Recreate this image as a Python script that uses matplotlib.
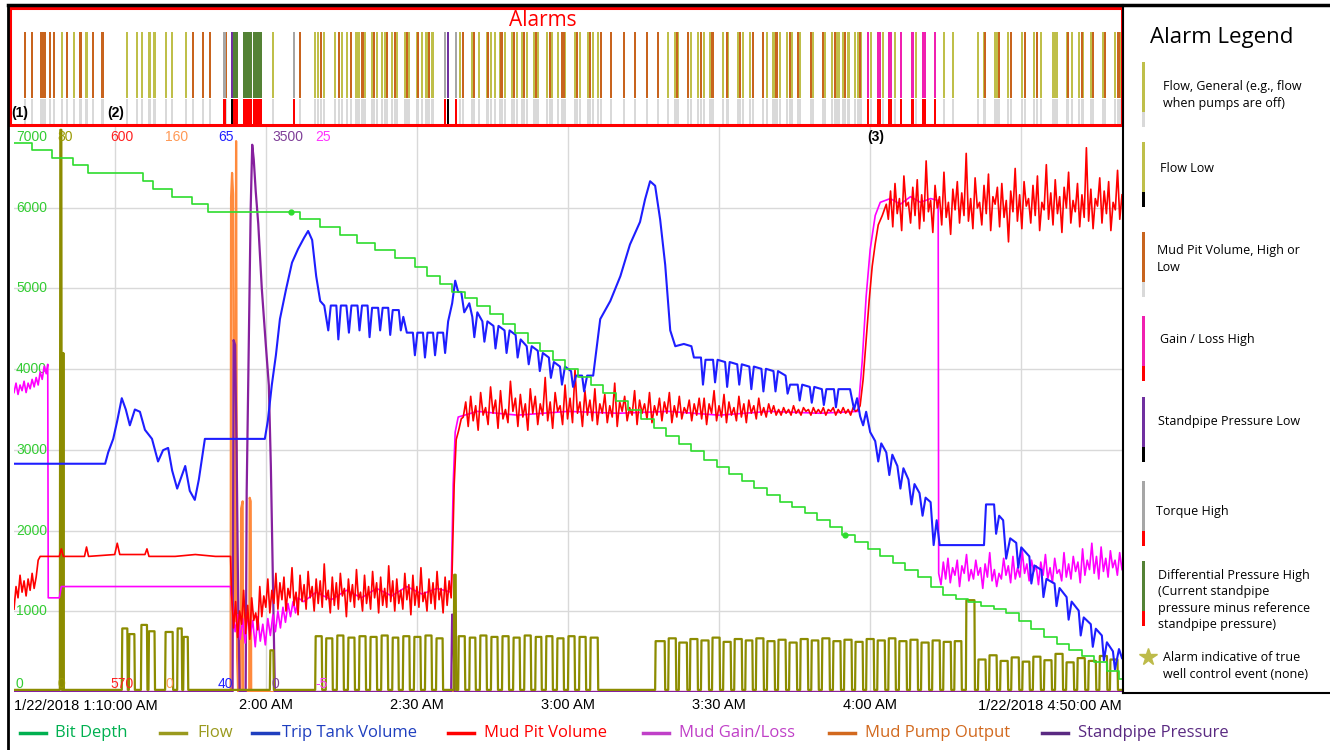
import numpy as np
import matplotlib.pyplot as plt
from matplotlib.patches import Rectangle
from matplotlib.lines import Line2D

plt.rcParams['font.family'] = ['Open Sans', 'DejaVu Sans']

W, H = 1330, 750

# ---- time axis (minutes after 1/22/2018 1:10 AM) ----
t_end = 220
tick_minutes = [50, 80, 110, 140, 170]
tick_labels = ['2:00 AM', '2:30 AM', '3:00 AM', '3:30 AM', '4:00 AM']
grid_minutes = [20, 50, 80, 110, 140, 170, 200]
depth_grid = [1000, 2000, 3000, 4000, 5000, 6000]

# ---- series: name, colour, legend colour, scale (lo, hi) ----
names = ['Bit Depth', 'Flow', 'Trip Tank Volume', 'Mud Pit Volume',
         'Mud Gain/Loss', 'Mud Pump Output', 'Standpipe Pressure']
line_colors = ['#2EDC2E', '#8C8C00', '#1E1EFF', '#FF0000', '#FF00FF', '#FF8A3D', '#86209E']
legend_colors = ['#00B050', '#9A9A1E', '#1F3FBF', '#FF0000', '#C040C8', '#D2691E', '#5A2A82']
scale_lo = [0, 0, 40, 570, -5, 0, 0]
scale_hi = [7000, 80, 65, 600, 25, 160, 3500]
range_label_colors = ['#33CC33', '#999900', '#2020FF', '#FF2020', '#FF33FF', '#FF9955', '#7F3F98']
# order of the scale labels across the top / bottom of the plot
range_label_order = [0, 1, 3, 5, 2, 6, 4]
range_label_x = [16, 57, 110, 165, 218, 272, 315]

# Bit depth (ft) staircase
bit_depth = [(0, 6800), (3.6, 6715), (7.5, 6615), (11.7, 6530), (14.7, 6430), (25.6, 6330),
             (27.6, 6230), (31.4, 6135), (35.3, 6045), (38.5, 5950), (56.8, 5860), (60.8, 5760),
             (64.7, 5660), (68.1, 5565), (71.7, 5475), (75.7, 5380), (79.6, 5260), (82.0, 5160),
             (84.5, 5060), (87.0, 4960), (89.5, 4880), (92.0, 4780), (94.5, 4680), (97.0, 4560),
             (99.5, 4450), (102.0, 4330), (104.5, 4220), (107.0, 4110), (109.5, 4000), (112.0, 3900),
             (114.5, 3800), (117.0, 3700), (119.5, 3600), (122.0, 3490), (124.5, 3380), (127.0, 3270),
             (129.5, 3170), (132.0, 3070), (134.5, 2980), (137.0, 2880), (139.5, 2790), (142.0, 2700),
             (144.5, 2610), (147.0, 2530), (149.5, 2440), (152.0, 2360), (154.5, 2290), (157.0, 2220),
             (159.5, 2130), (162.0, 2040), (164.5, 1950), (167.0, 1860), (169.5, 1770), (172.0, 1680),
             (174.5, 1600), (177.0, 1510), (179.5, 1420), (182.0, 1300), (184.5, 1200), (187.0, 1150),
             (189.5, 1110), (192.0, 1070), (194.5, 1030), (197.0, 980), (199.5, 880), (202.0, 780),
             (204.5, 680), (207.0, 600), (209.5, 520), (212.0, 440), (214.5, 370), (217.0, 260),
             (219.5, 160), (220, 160)]
bit_depth_marks = [(55.0, 5950), (165.0, 1950)]

# Flow (%) pulses: (on, off, level)
flow_base = 0.3
flow_pulses = [
    (9.1, 9.5, 79.6), (9.7, 9.9, 48.0),
    (21.4, 22.6, 9.0), (22.8, 24.0, 8.2), (25.2, 26.5, 9.5), (26.7, 28.0, 8.6), (30.0, 31.6, 8.5),
    (32.4, 33.4, 9.0), (33.6, 34.6, 7.8),
    (50.8, 51.6, 5.9),
    (59.8, 61.2, 7.9), (61.9, 63.3, 7.6), (64.1, 65.5, 8.0), (66.3, 67.7, 7.7), (68.5, 69.9, 7.9),
    (70.7, 72.1, 7.8), (72.9, 74.3, 8.0), (75.1, 76.4, 7.7), (77.2, 78.6, 7.9), (79.4, 80.8, 7.8),
    (81.6, 83.0, 8.0), (83.8, 85.2, 7.6), (87.3, 87.8, 16.6),
    (88.2, 89.6, 7.9), (90.4, 91.7, 7.7), (92.5, 93.9, 8.0), (94.7, 96.1, 7.8), (96.9, 98.3, 7.9),
    (99.1, 100.5, 7.7), (101.3, 102.7, 8.0), (103.5, 104.8, 7.8), (105.6, 107.0, 7.9),
    (107.8, 109.2, 7.6), (110.0, 111.4, 7.9), (112.2, 113.6, 7.8), (114.4, 116.0, 7.7),
    (127.3, 129.3, 7.2), (129.9, 131.5, 7.6), (132.0, 133.7, 7.0), (134.2, 135.8, 7.5),
    (136.4, 138.0, 7.3), (138.6, 140.2, 7.7), (140.8, 142.4, 7.1), (143.0, 144.6, 7.5),
    (145.2, 146.7, 7.3), (147.3, 148.9, 7.6), (149.5, 151.1, 7.2), (151.7, 153.3, 7.4),
    (153.9, 155.5, 7.0), (156.1, 157.7, 7.5), (158.3, 159.8, 7.3), (160.4, 162.0, 7.6),
    (162.6, 164.2, 7.2), (164.8, 166.4, 7.4), (167.0, 168.6, 7.1), (169.2, 170.8, 7.5),
    (171.4, 173.0, 7.3), (173.6, 175.1, 7.6), (175.7, 177.3, 7.2), (177.9, 179.5, 7.4),
    (180.1, 181.7, 7.0), (182.3, 183.9, 7.3), (184.5, 186.1, 7.1), (186.7, 188.2, 7.2),
    (189.0, 190.8, 13.0), (191.4, 193.0, 4.6), (193.6, 195.2, 5.2), (195.8, 197.4, 4.4),
    (198.0, 199.6, 4.9), (200.2, 201.7, 4.3), (202.3, 203.9, 5.0), (204.5, 206.1, 4.5),
    (206.7, 208.3, 5.4), (208.9, 210.5, 4.2), (211.1, 212.7, 4.8), (213.3, 214.9, 4.4),
    (215.5, 217.1, 5.1), (217.6, 219.2, 4.6)]

# Trip tank volume (bbl)
trip_tank = [
    (0, 50.1), (18.1, 50.1), (18.7, 50.6), (19.7, 51.2), (20.5, 52.0), (21.4, 53.0), (22.2, 52.5),
    (23.0, 51.8), (24.0, 52.5), (25.0, 52.4), (26.0, 51.6), (27.4, 51.2), (28.6, 50.2), (29.6, 50.7),
    (30.6, 50.8), (31.4, 49.8), (32.4, 49.0), (33.2, 49.5), (34.0, 50.0), (34.9, 48.9), (35.9, 48.5),
    (36.7, 49.4), (37.9, 51.2), (49.8, 51.2), (50.4, 52.0), (51.2, 53.6), (52.0, 54.9), (52.8, 56.5),
    (54.0, 57.8), (55.2, 59.0), (56.4, 59.6), (57.6, 60.1), (58.4, 60.4), (59.2, 60.0), (60.0, 58.4),
    (60.8, 57.3), (61.6, 57.1), (62.4, 56.0), (62.9, 57.1), (64.0, 57.1), (64.4, 55.6), (64.9, 57.1),
    (66.0, 57.1), (66.5, 55.9), (67.0, 57.1), (68.2, 57.1), (68.6, 56.0), (69.1, 57.1), (70.2, 57.1),
    (70.6, 55.7), (71.1, 57.0), (72.3, 57.0), (72.7, 56.0), (73.2, 57.0), (74.3, 57.0), (74.7, 55.8),
    (75.2, 56.9), (76.4, 56.9), (76.8, 56.0), (77.3, 56.6), (78.0, 55.9), (79.2, 55.9), (79.6, 54.9),
    (80.1, 55.9), (81.2, 55.9), (81.6, 54.8), (82.1, 55.9), (83.2, 55.9), (83.6, 54.9), (84.1, 55.9),
    (85.2, 55.9), (85.6, 55.0), (86.2, 56.4), (87.0, 57.2), (87.6, 58.2), (88.2, 57.7), (88.8, 57.7),
    (89.4, 56.8), (90.4, 57.2), (91.0, 56.6), (91.4, 55.7), (92.0, 56.8), (93.0, 56.4), (93.4, 55.5),
    (94.0, 56.4), (95.2, 56.2), (95.6, 55.2), (96.2, 56.2), (97.4, 56.0), (97.8, 55.0), (98.4, 56.0),
    (99.6, 55.8), (100.0, 54.8), (100.6, 55.6), (101.8, 55.3), (102.2, 54.5), (102.8, 55.3),
    (104.0, 55.1), (104.4, 54.2), (105.0, 55.0), (106.2, 54.8), (106.6, 53.9), (107.2, 54.6),
    (108.4, 54.4), (108.8, 53.6), (109.4, 54.4), (110.6, 54.2), (111.0, 53.5), (111.6, 54.0),
    (112.8, 54.0), (113.2, 53.3), (113.8, 54.0), (115.0, 54.0), (116.4, 56.5), (118.4, 57.3),
    (120.4, 58.4), (122.3, 59.8), (124.3, 60.8), (125.3, 61.8), (126.3, 62.6), (127.3, 62.4),
    (128.3, 60.9), (129.3, 58.9), (130.3, 56.0), (131.3, 55.3), (133.0, 55.4), (134.5, 55.3),
    (135.0, 54.8), (136.4, 54.8), (136.8, 53.6), (137.3, 54.7), (138.8, 54.7), (139.2, 53.7),
    (139.7, 54.7), (141.2, 54.6), (141.6, 53.5), (142.1, 54.6), (143.6, 54.5), (144.0, 53.6),
    (144.5, 54.5), (146.0, 54.4), (146.4, 53.4), (146.9, 54.4), (148.4, 54.3), (148.8, 53.3),
    (149.3, 54.3), (150.8, 54.2), (151.2, 53.3), (151.7, 54.2), (153.2, 54.0), (153.6, 53.2),
    (154.1, 53.6), (155.6, 53.6), (156.0, 52.9), (156.5, 53.6), (158.0, 53.5), (158.4, 52.8),
    (158.9, 53.5), (160.4, 53.4), (160.8, 52.7), (161.3, 53.4), (162.8, 53.4), (163.2, 52.6),
    (163.7, 53.4), (165.2, 53.4), (166.0, 53.4), (166.8, 52.5), (167.4, 53.0), (168.0, 52.2),
    (168.6, 51.8), (169.2, 52.4), (170.0, 51.5), (171.0, 51.1), (171.6, 50.2), (172.2, 51.0),
    (173.2, 50.6), (173.8, 49.6), (174.4, 50.5), (175.4, 50.0), (176.0, 49.0), (176.6, 49.9),
    (177.6, 49.4), (178.2, 48.3), (178.8, 49.2), (179.8, 48.8), (180.4, 47.8), (181.0, 48.6),
    (182.0, 48.4), (182.6, 46.5), (183.2, 47.6), (183.8, 46.5), (192.6, 46.5), (193.0, 48.3),
    (194.6, 48.3), (195.0, 47.0), (195.6, 47.8), (196.4, 47.6), (197.0, 45.9), (197.8, 46.8),
    (199.0, 46.6), (199.4, 45.5), (200.0, 46.4), (201.6, 46.0), (202.0, 44.8), (202.6, 45.6),
    (204.0, 45.4), (204.4, 44.2), (205.0, 45.0), (206.6, 44.8), (207.0, 43.8), (207.6, 44.6),
    (209.0, 44.2), (209.4, 43.2), (210.0, 44.0), (211.4, 43.6), (211.8, 42.5), (212.4, 43.3),
    (213.8, 43.0), (214.2, 42.0), (214.8, 42.8), (216.0, 42.5), (216.4, 41.4), (217.0, 42.2),
    (218.2, 41.8), (218.6, 41.0), (219.4, 41.9), (220, 41.5)]

# Mud pit volume (bbl): readings + three noisy stretches
mud_pit_start = [(0, 574.4), (0.4, 575.6), (0.8, 575.0), (1.2, 576.2), (1.6, 575.3), (2.0, 575.9),
                 (2.4, 575.1), (2.8, 576.0), (3.2, 575.4), (3.6, 576.3), (4.0, 575.5), (4.4, 576.1),
                 (4.8, 577.0), (5.2, 577.2), (9.0, 577.2), (9.4, 577.6), (9.8, 577.2), (14.0, 577.2),
                 (14.4, 577.7), (14.8, 577.2), (20.0, 577.3), (20.5, 577.9), (21.0, 577.3),
                 (26.0, 577.3), (26.4, 577.6), (26.8, 577.2), (32.0, 577.2), (36.0, 577.3),
                 (40.0, 577.2), (43.0, 577.2)]
mud_pit_c = [575.2, 573.4, 574.8, 572.9, 574.3, 573.6, 575.4, 573.1, 574.6, 572.8, 575.0, 573.8,
             574.2, 573.3, 575.6, 574.0, 575.1, 574.5, 576.0, 574.2, 575.4, 574.7, 576.3, 574.4,
             575.8, 574.9, 576.1, 574.3, 575.5, 575.0, 576.6, 574.6, 575.3, 574.1, 576.2, 574.8,
             575.7, 574.4, 576.4, 575.0, 575.6, 574.3, 576.0, 574.7, 575.9, 574.5, 576.8, 574.9,
             575.4, 574.2, 576.1, 574.6, 575.8, 574.4, 576.3, 575.1, 575.5, 574.0, 576.0, 574.8,
             575.7, 574.5, 576.5, 574.9, 575.3, 574.3, 576.2, 574.7, 575.6, 574.4, 576.4, 575.0,
             575.8, 574.2, 576.1, 574.6, 575.5, 574.5, 576.7, 574.8, 575.9, 574.3, 576.0, 574.7,
             575.4, 574.4, 576.3, 574.9, 575.7, 574.1, 576.2, 574.6, 575.6, 574.5, 576.6, 574.8,
             575.3, 574.3, 576.0, 574.7, 575.8, 574.4, 576.4, 574.9, 575.5, 574.2, 576.1, 574.6,
             575.9, 575.0]
mud_pit_c_span = (43.2, 86.8)
mud_pit_rise1 = [(87.0, 576.5), (87.4, 581.0), (87.8, 583.4), (88.3, 583.9), (88.8, 584.5)]
mud_pit_e = [584.6, 585.4, 584.1, 585.7, 584.4, 585.2, 583.9, 585.9, 584.7, 585.1, 584.2, 586.2,
             584.8, 585.5, 584.0, 586.0, 584.5, 585.0, 584.3, 586.5, 584.9, 585.6, 584.1, 585.8,
             584.6, 585.3, 583.9, 586.1, 584.8, 585.7, 584.2, 585.3, 584.7, 586.7, 584.4, 585.4,
             584.0, 585.9, 584.9, 585.2, 584.2, 586.3, 584.5, 585.6, 584.3, 587.1, 584.8, 585.4,
             584.1, 586.0, 584.7, 585.5, 584.4, 586.1, 584.2, 585.3, 584.8, 585.8, 584.3, 585.2,
             584.6, 586.4, 584.1, 585.4, 584.9, 585.7, 584.4, 585.1, 584.7, 586.0, 584.2, 585.5,
             584.8, 585.3, 584.5, 585.9, 584.3, 585.2, 584.7, 585.6, 584.4, 585.4, 584.8, 585.9,
             584.3, 585.2, 584.6, 585.7, 584.5, 585.1, 584.8, 585.5, 584.4, 585.3, 584.7, 585.6,
             584.5, 585.6, 584.2, 585.3, 584.8, 586.0, 584.4, 585.2, 584.6, 585.8, 584.3, 585.4,
             584.7, 585.1, 584.4, 585.7, 584.6, 585.3, 584.3, 585.5, 584.8, 585.2, 584.5, 585.6,
             584.7, 585.1, 584.6, 585.3, 584.8, 585.2, 584.7, 585.0, 584.7, 585.1, 584.8, 585.0,
             584.7, 585.2, 584.8, 585.0, 584.7, 585.1, 584.9, 585.0, 584.7, 585.1, 584.8, 585.0,
             584.8, 585.1, 584.7, 585.0, 584.9, 585.1, 584.7, 585.0, 584.8, 585.1, 584.8, 585.0,
             584.7, 585.1, 584.9, 585.0]
mud_pit_e_span = (89.2, 167.6)
mud_pit_rise2 = [(168.0, 585.2), (168.6, 586.6), (169.2, 588.7), (169.8, 590.8), (170.4, 592.6),
                 (171.0, 593.8), (171.6, 594.8), (172.4, 595.3), (173.2, 595.9)]
mud_pit_g = [595.1, 596.6, 594.7, 597.0, 595.4, 596.2, 594.5, 597.4, 595.8, 596.0, 594.9, 596.8,
             595.3, 597.2, 594.6, 596.4, 595.0, 598.2, 595.5, 596.1, 594.4, 596.9, 595.7, 596.3,
             594.8, 597.6, 595.2, 596.0, 594.3, 596.7, 595.6, 597.1, 594.9, 596.5, 595.3, 598.6,
             595.0, 596.2, 594.6, 597.3, 595.7, 596.0, 594.8, 596.9, 595.4, 597.5, 594.5, 596.3,
             595.9, 596.8, 594.7, 597.0, 595.2, 596.1, 593.9, 596.6, 595.5, 597.8, 595.0, 596.4,
             594.6, 597.1, 595.8, 596.2, 594.9, 596.9, 595.3, 597.4, 594.5, 596.0, 595.6, 598.0,
             595.1, 596.5, 594.8, 597.2, 595.4, 596.3, 594.4, 596.8, 595.7, 597.6, 594.9, 596.1,
             595.5, 597.0, 594.7, 596.4, 595.2, 598.9, 595.0, 596.7, 594.6, 596.2, 595.8, 597.3,
             594.9, 596.6, 595.4, 597.1, 594.5, 596.0, 595.6, 597.7, 595.1, 596.4]
mud_pit_g_span = (173.6, 220)

# Mud gain / loss (bbl)
gain_loss = [(0, 10.9), (0.4, 11.4), (0.8, 10.8), (1.2, 11.3), (1.6, 11.0), (2.0, 11.5), (2.4, 10.9),
             (2.8, 11.4), (3.2, 11.1), (3.6, 11.6), (4.0, 11.2), (4.4, 11.7), (4.8, 11.3), (5.2, 12.0),
             (5.6, 11.6), (6.0, 12.3), (6.4, 11.9), (6.7, 12.4), (6.8, 0.0), (9.0, 0.0), (9.4, 0.6),
             (43.0, 0.6), (43.4, -0.6), (43.9, -1.8), (44.4, -0.9), (44.9, -2.2), (45.4, -1.1),
             (45.9, -2.4), (46.4, -0.8), (46.9, -2.0), (47.4, -1.2), (47.9, -2.6), (48.4, -1.0),
             (48.9, -2.3), (49.4, -1.4), (49.9, -2.5), (50.4, -1.1), (50.9, -2.0), (51.4, -0.9),
             (51.9, -1.8), (52.4, -0.7), (52.9, -1.6), (53.4, -0.5), (53.9, -1.3), (54.4, -0.3),
             (54.9, -1.0), (55.4, -0.2), (55.9, -0.8), (56.4, 0.0), (57.5, -0.2), (60, 0.3),
             (63, -0.1), (66, 0.4), (69, 0.0), (72, 0.5), (75, 0.1), (78, 0.6), (81, 0.2), (84, 0.5),
             (86.8, 0.3), (87.2, 6.0), (87.6, 8.8), (88.2, 9.6), (92, 9.9), (100, 9.7), (110, 9.9),
             (120, 9.8), (130, 9.9), (140, 9.7), (150, 9.9), (160, 9.8), (167.6, 9.9), (168.4, 12.5),
             (169.2, 16.0), (170.0, 18.5), (171.0, 20.3), (172.0, 21.0), (174, 21.2), (176, 20.9),
             (178, 21.3), (180, 21.0), (182, 21.2), (183.5, 21.1)]
gain_loss_tail = [1.3, 0.7, 1.9, 1.0, 2.1, 0.8, 1.6, 1.2, 2.0, 0.6, 1.7, 1.3, 2.3, 0.9, 1.5, 1.0,
                  2.0, 1.2, 1.6, 0.5, 1.8, 1.1, 2.4, 0.9, 1.5, 0.6, 1.3, 1.0, 2.1, 1.2, 1.7, 0.8,
                  2.2, 1.0, 1.6, 1.1, 2.5, 1.3, 1.8, 0.9, 2.0, 1.4, 1.7, 0.7, 1.9, 1.2, 2.3, 1.0,
                  1.6, 0.8, 2.1, 1.3, 1.5, 0.9, 2.4, 1.1, 1.8, 1.0, 2.2, 1.4, 1.9, 0.8, 2.6, 1.2,
                  2.0, 1.5, 2.9, 1.3, 2.2, 1.0, 2.7, 1.4, 2.1, 1.1, 2.5, 1.6, 2.0, 1.2, 2.4, 1.5]
gain_loss_tail_span = (183.6, 220)

# Mud pump output (scale 0-160)
mud_pump = [(0, 0), (43.0, 0), (43.1, 140), (43.3, 147), (43.5, 141), (43.7, 40), (43.9, 20),
            (44.1, 156), (44.3, 10), (44.5, 0), (45.0, 0), (45.1, 52), (45.4, 54), (45.5, 0),
            (46.7, 0), (46.8, 55), (47.0, 54), (47.1, 0), (220, 0)]

# Standpipe pressure (psi)
standpipe = [(0, 0), (43.4, 0), (43.6, 2180), (43.9, 2150), (44.2, 1500), (44.5, 600), (44.8, 0),
             (46.0, 0), (46.2, 1240), (46.5, 1900), (47.0, 3000), (47.3, 3390), (47.6, 3300),
             (48.0, 3100), (48.5, 2900), (49.2, 2500), (50.0, 2150), (50.6, 1900), (51.0, 1400),
             (51.4, 700), (51.8, 0), (86.8, 0), (87.0, 480), (87.3, 300), (87.5, 0), (220, 0)]

# ---- alarm events (minutes) ----
alarm_flow_general = [9.6, 11.9, 14.4, 22.4, 24.4, 25.5, 26.9, 27.9, 30.1, 31.3, 34.2, 51.4, 59.8,
                      60.4, 61.6, 63.7, 65.1, 66.1, 68.0, 68.5, 69.7, 71.1, 72.0, 73.1, 73.7, 75.1,
                      76.1, 77.6, 78.4, 80.0, 81.0, 81.9, 83.1, 88.6, 90.9, 92.3, 93.9, 94.7, 95.5,
                      96.5, 97.5, 98.8, 99.8, 100.8, 101.9, 103.3, 104.1, 105.8, 106.8, 108.1, 108.8,
                      109.4, 111.4, 112.3, 114.0, 115.0, 116.0, 129.9, 131.3, 131.9, 134.4, 135.9,
                      137.0, 138.3, 140.8, 141.8, 143.8, 144.8, 146.1, 149.5, 150.8, 152.1, 153.4,
                      154.4, 156.1, 158.7, 161.0, 162.4, 163.2, 163.7, 164.7, 165.7, 167.0, 167.5,
                      168.2, 170.2, 172.6, 174.9, 179.1, 184.7, 186.4, 191.4, 192.7, 194.7, 195.1,
                      197.4, 200.1, 202.6, 204.0, 206.4, 207.0, 209.0, 210.0, 211.5, 212.3, 213.9,
                      216.3, 218.6, 219.6]
alarm_mud_pit = [2.2, 3.5, 5.4, 5.8, 6.2, 7.1, 7.9, 10.6, 13.2, 15.7, 17.4, 17.7, 35.5, 37.6, 38.9,
                 42.1, 56.7, 61.0, 64.5, 66.9, 69.2, 71.4, 74.0, 75.7, 78.0, 80.3, 82.4, 89.2, 91.4,
                 94.2, 96.8, 99.3, 101.3, 103.6, 106.4, 108.8, 109.1, 111.7, 114.4, 116.5, 118.5,
                 121.1, 123.3, 125.6, 127.8, 131.6, 133.8, 136.4, 138.7, 141.5, 144.2, 146.8, 148.8,
                 151.4, 154.0, 155.7, 158.2, 160.6, 163.0, 165.0, 168.0, 192.8, 195.5, 198.0, 200.7,
                 203.2, 209.3, 212.0, 214.3, 216.6, 219.3]
alarm_gain_loss = [169.6, 171.5, 172.0, 173.8, 174.2, 176.2, 178.4, 180.5, 180.9, 182.8]
alarm_standpipe_low = [43.3, 86.2]
alarm_torque = [41.8, 55.6, 85.6, 87.7]
alarm_diff_pressure = [44.0, 46.0, 46.7, 48.0, 48.4, 48.8]

alarm_sets = [  # times, top colour, bottom colour
    (alarm_flow_general, '#BFBF4A', '#D9D9D9'),
    (alarm_mud_pit, '#C8641E', '#D9D9D9'),
    (alarm_torque, '#A6A6A6', '#FF0000'),
    (alarm_standpipe_low, '#7030A0', '#000000'),
    (alarm_diff_pressure, '#548235', '#FF0000'),
    (alarm_gain_loss, '#F020B0', '#FF0000'),
]

alarm_legend = [
    ('Flow, General (e.g., flow\nwhen pumps are off)', '#BFBF4A', '#D9D9D9'),
    ('Flow Low', '#BFBF4A', '#000000'),
    ('Mud Pit Volume, High or\nLow', '#C8641E', '#D9D9D9'),
    ('Gain / Loss High', '#F020B0', '#FF0000'),
    ('Standpipe Pressure Low', '#7030A0', '#000000'),
    ('Torque High', '#A6A6A6', '#FF0000'),
    ('Differential Pressure High\n(Current standpipe\npressure minus reference\nstandpipe pressure)',
     '#548235', '#FF0000'),
]


def fx(x):
    return x / W


def fy(y):
    return 1 - y / H


def to_axis(v, i):
    return (np.asarray(v, float) - scale_lo[i]) / (scale_hi[i] - scale_lo[i]) * 7000


def unzip(pairs):
    a = np.array(pairs, float)
    return a[:, 0], a[:, 1]


fig = plt.figure(figsize=(W / 100, H / 100), dpi=100)
ax = fig.add_axes([fx(14), fy(692), 1108 / W, 565 / H])
ax.set_xlim(0, t_end)
ax.set_ylim(0, 7000)
for s in ax.spines.values():
    s.set_visible(False)
for g in grid_minutes:
    ax.axvline(g, color='#D9D9D9', lw=1, zorder=0)
for g in depth_grid:
    ax.axhline(g, color='#D9D9D9', lw=1, zorder=0)
    ax.text(0.4, g, str(g), color='#33CC33', fontsize=10, va='center', ha='left',
            family='Liberation Sans')
ax.set_yticks([])
ax.set_xticks(tick_minutes)
ax.set_xticklabels(tick_labels, fontsize=10.5, family='Liberation Sans')
ax.tick_params(axis='x', length=0, pad=4)
ax.text(0, -0.012, '1/22/2018 1:10:00 AM', transform=ax.get_xaxis_transform(), ha='left',
        va='top', fontsize=10.5, family='Liberation Sans')
ax.text(t_end, -0.012, '1/22/2018 4:50:00 AM', transform=ax.get_xaxis_transform(), ha='right',
        va='top', fontsize=10.5, family='Liberation Sans')

# mud pump output
t, v = unzip(mud_pump)
ax.plot(t, to_axis(v, 5), color=line_colors[5], lw=1.6, zorder=2)
# standpipe pressure
t, v = unzip(standpipe)
ax.plot(t, to_axis(v, 6), color=line_colors[6], lw=1.6, zorder=2)
# flow
ft, fv = [0], [flow_base]
for on, off, lvl in flow_pulses:
    ft += [on, on + 0.1, off - 0.1, off]
    fv += [flow_base, lvl, lvl, flow_base]
ft.append(t_end)
fv.append(flow_base)
ax.plot(ft, to_axis(fv, 1), color=line_colors[1], lw=1.6, zorder=3)
# mud gain / loss
t, v = unzip(gain_loss)
t = np.concatenate([t, np.linspace(*gain_loss_tail_span, len(gain_loss_tail))])
v = np.concatenate([v, gain_loss_tail])
ax.plot(t, to_axis(v, 4), color=line_colors[4], lw=1.2, zorder=4)
# mud pit volume
parts_t, parts_v = [], []
for pairs, noise, span in [(mud_pit_start, mud_pit_c, mud_pit_c_span),
                           (mud_pit_rise1, mud_pit_e, mud_pit_e_span),
                           (mud_pit_rise2, mud_pit_g, mud_pit_g_span)]:
    a, b = unzip(pairs)
    parts_t += [a, np.linspace(*span, len(noise))]
    parts_v += [b, np.array(noise)]
ax.plot(np.concatenate(parts_t), to_axis(np.concatenate(parts_v), 3), color=line_colors[3],
        lw=1.2, zorder=5)
# trip tank
t, v = unzip(trip_tank)
ax.plot(t, to_axis(v, 2), color=line_colors[2], lw=1.5, zorder=6)
# bit depth
t, v = unzip(bit_depth)
ax.plot(t, v, color=line_colors[0], lw=1.2, drawstyle='steps-post', zorder=7)
t, v = unzip(bit_depth_marks)
ax.plot(t, v, 'o', color=line_colors[0], ms=3.5, zorder=7)

# scale labels (max on top row, min on bottom row)
for i, x in zip(range_label_order, range_label_x):
    fig.text(fx(x), fy(137), f'{scale_hi[i]}', color=range_label_colors[i], fontsize=10,
             ha='left', va='center', family='Liberation Sans')
    fig.text(fx(x), fy(684), f'{scale_lo[i]}', color=range_label_colors[i], fontsize=10,
             ha='left', va='center', family='Liberation Sans')

# ---- alarm strip ----
ax_al = fig.add_axes([fx(14), fy(125), 1108 / W, 117 / H])
ax_al.set_xlim(0, t_end)
ax_al.set_ylim(0, 117)
ax_al.axis('off')
for times, top_c, bot_c in alarm_sets:
    w = 1.0 if times is alarm_diff_pressure else 0.42
    ax_al.bar(times, 25, bottom=1, width=w, color=bot_c, linewidth=0)
    ax_al.bar(times, 66, bottom=27, width=w, color=top_c, linewidth=0)
fig.add_artist(Rectangle((fx(10), fy(125)), 1112 / W, 117 / H, transform=fig.transFigure,
                         fill=False, ec='#FF0000', lw=2.2))
fig.text(fx(543), fy(20), 'Alarms', color='#FF0000', fontsize=15, ha='center', va='center')
for lab, x, y in [('(1)', 20, 113), ('(2)', 116, 113), ('(3)', 876, 137)]:
    fig.text(fx(x), fy(y), lab, fontsize=10, fontweight='bold', ha='center', va='center',
             family='Liberation Sans')

# ---- frame lines ----
fig.add_artist(Line2D([fx(8), fx(1330)], [fy(5), fy(5)], color='black', lw=2.5))
fig.add_artist(Line2D([fx(8), fx(8)], [fy(5), fy(750)], color='black', lw=2))
fig.add_artist(Line2D([fx(1123), fx(1123)], [fy(5), fy(693)], color='black', lw=1.5))
fig.add_artist(Line2D([fx(1123), fx(1330)], [fy(693), fy(693)], color='black', lw=1.5))

# ---- alarm legend panel ----
fig.text(fx(1150), fy(37), 'Alarm Legend', fontsize=16, ha='left', va='center')
bar_top = [62, 142, 232, 316, 397, 481, 561]
text_y = [95, 168, 259, 340, 422, 512, 600]
text_x = [1163, 1160, 1157, 1160, 1158, 1156, 1158]
for (label, top_c, bot_c), y0, ty, tx in zip(alarm_legend, bar_top, text_y, text_x):
    fig.add_artist(Rectangle((fx(1141.5), fy(y0 + 50)), 3.5 / W, 50 / H,
                             transform=fig.transFigure, color=top_c, lw=0))
    fig.add_artist(Rectangle((fx(1141.5), fy(y0 + 65)), 3.5 / W, 15 / H,
                             transform=fig.transFigure, color=bot_c, lw=0))
    fig.text(fx(tx), fy(ty), label, fontsize=9, ha='left', va='center', linespacing=1.35)
fig.add_artist(Line2D([fx(1148)], [fy(657)], marker='*', ms=13, color='#BDBB4A',
                      transform=fig.transFigure))
fig.text(fx(1163), fy(666), 'Alarm indicative of true\nwell control event (none)', fontsize=9,
         ha='left', va='center', linespacing=1.35)

# ---- series legend ----
line_x0 = [20, 160, 252, 448, 643, 829, 1042]
text_x0 = [55, 197, 282, 484, 679, 865, 1078]
for i in range(len(names)):
    fig.add_artist(Line2D([fx(line_x0[i]), fx(line_x0[i] + 26)], [fy(733), fy(733)],
                          color=legend_colors[i], lw=2.5))
    fig.text(fx(text_x0[i]), fy(733), names[i], color=legend_colors[i], fontsize=12,
             ha='left', va='center')

fig.savefig('out.png', dpi=100)
